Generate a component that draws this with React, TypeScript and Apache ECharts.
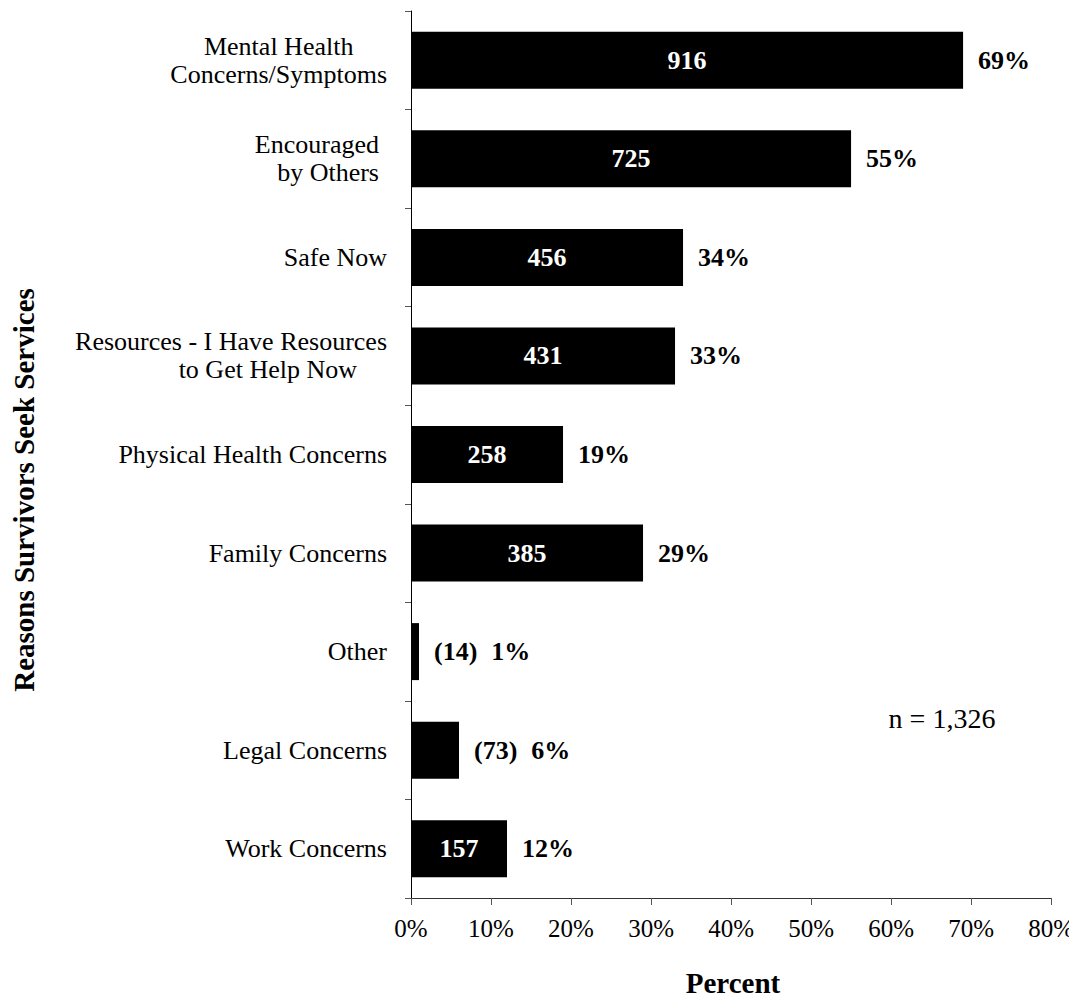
import React, { useEffect, useRef } from "react";
import * as echarts from "echarts";

const categories = [
  "Mental Health\nConcerns/Symptoms",
  "Encouraged\nby Others",
  "Safe Now",
  "Resources - I Have Resources\nto Get Help Now",
  "Physical Health Concerns",
  "Family Concerns",
  "Other",
  "Legal Concerns",
  "Work Concerns",
];
const counts = [916, 725, 456, 431, 258, 385, 14, 73, 157];
const percents = [69, 55, 34, 33, 19, 29, 1, 6, 12];
const xTicks = [0, 10, 20, 30, 40, 50, 60, 70, 80];
const sampleNote = "n = 1,326";
const xTitle = "Percent";
const yTitle = "Reasons Survivors Seek Services";

const FONT = "'Liberation Serif', 'Times New Roman', serif";

export default function App() {
  const ref = useRef<HTMLDivElement>(null);
  useEffect(() => {
    if (!ref.current) return;
    const chart = echarts.init(ref.current, null, { renderer: "svg" });
    const small = (i: number) => percents[i] < 10;
    chart.setOption({
      animation: false,
      backgroundColor: "#fff",
      textStyle: { fontFamily: FONT },
      grid: { left: 411, right: 25, top: 11, bottom: 103, containLabel: false },
      xAxis: {
        type: "value",
        min: xTicks[0],
        max: xTicks[xTicks.length - 1],
        interval: 10,
        splitLine: { show: false },
        axisLine: { show: true, lineStyle: { color: "#333", width: 1 } },
        axisTick: { show: true, length: 7, lineStyle: { color: "#555" } },
        axisLabel: {
          color: "#000",
          fontSize: 25,
          fontFamily: FONT,
          margin: 18,
          formatter: (v: number) => `${v}%`,
        },
      },
      yAxis: {
        type: "category",
        inverse: true,
        data: categories,
        axisLine: { show: true, lineStyle: { color: "#000", width: 1 } },
        axisTick: { show: true, length: 6, lineStyle: { color: "#555" } },
        axisLabel: {
          color: "#000",
          fontSize: 26,
          fontFamily: FONT,
          align: "right",
          margin: 24,
          lineHeight: 28,
          formatter: (v: string) => {
            const lines = v.split("\n");
            if (lines.length === 1) return v;
            if (v.startsWith("Resources")) {
              return `{r|${lines[0]}}\n{r2|${lines[1]}}`;
            }
            if (v.startsWith("Encouraged")) {
              return lines.map((l) => `{e|${l}}`).join("\n");
            }
            return lines.map((l) => `{c|${l}}`).join("\n");
          },
          rich: {
            c: { align: "center", fontSize: 26, fontFamily: FONT, color: "#000", lineHeight: 28 },
            e: {
              align: "right",
              fontSize: 26,
              fontFamily: FONT,
              color: "#000",
              lineHeight: 28,
              padding: [0, 8, 0, 0],
            },
            r: { align: "right", fontSize: 26, fontFamily: FONT, color: "#000", lineHeight: 28 },
            r2: {
              align: "right",
              fontSize: 26,
              fontFamily: FONT,
              color: "#000",
              lineHeight: 28,
              padding: [0, 30, 0, 0],
            },
          },
        },
      },
      series: [
        {
          type: "bar",
          data: percents,
          barWidth: 57,
          itemStyle: { color: "#000" },
          label: {
            show: true,
            position: "inside",
            color: "#fff",
            fontSize: 26,
            fontWeight: "bold",
            fontFamily: FONT,
            formatter: (p: any) => (small(p.dataIndex) ? "" : `${counts[p.dataIndex]}`),
          },
          silent: true,
        },
        {
          type: "bar",
          data: percents,
          barWidth: 57,
          barGap: "-100%",
          itemStyle: { color: "rgba(0,0,0,0)" },
          label: {
            show: true,
            position: "right",
            distance: 15,
            color: "#000",
            fontSize: 26,
            fontWeight: "bold",
            fontFamily: FONT,
            formatter: (p: any) =>
              small(p.dataIndex)
                ? `{a|(${counts[p.dataIndex]})}{b|${percents[p.dataIndex]}%}`
                : `${percents[p.dataIndex]}%`,
            rich: {
              a: { fontSize: 26, fontWeight: "bold", fontFamily: FONT, color: "#000" },
              b: { fontSize: 26, fontWeight: "bold", fontFamily: FONT, color: "#000", padding: [0, 0, 0, 14] },
            },
          },
          silent: true,
        },
      ],
      graphic: [
        {
          type: "text",
          x: 942,
          y: 718,
          style: {
            text: sampleNote,
            font: `28px ${FONT}`,
            fill: "#000",
            align: "center",
            verticalAlign: "middle",
          },
        },
        {
          type: "text",
          x: 733,
          y: 983,
          style: {
            text: xTitle,
            font: `bold 29px ${FONT}`,
            fill: "#000",
            align: "center",
            verticalAlign: "middle",
          },
        },
        {
          type: "text",
          x: 24,
          y: 490,
          rotation: Math.PI / 2,
          style: {
            text: yTitle,
            font: `bold 29px ${FONT}`,
            fill: "#000",
            align: "center",
            verticalAlign: "middle",
          },
        },
      ],
    });
    return () => chart.dispose();
  }, []);
  return <div ref={ref} style={{ width: 1077, height: 1001, margin: -8 }} />;
}
